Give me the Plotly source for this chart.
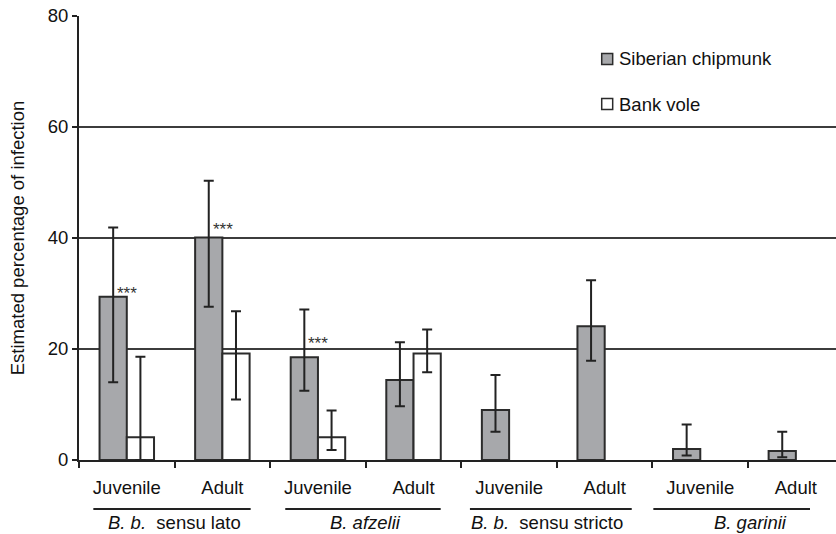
import plotly.graph_objects as go

# Categories: age class within each Borrelia genospecies group
age_labels = ["Juvenile", "Adult", "Juvenile", "Adult", "Juvenile", "Adult", "Juvenile", "Adult"]
groups = ["<i>B. b.</i>  sensu lato", "<i>B. afzelii</i>", "<i>B. b.</i>  sensu stricto", "<i>B. garinii</i>"]

# Estimated percentage of infection with 95% confidence limits
chip_val = [29.4, 40.1, 18.5, 14.4, 9.0, 24.1, 2.0, 1.6]
chip_low = [14.0, 27.6, 12.5, 9.7, 5.1, 17.9, 0.8, 0.5]
chip_high = [41.9, 50.3, 27.1, 21.2, 15.3, 32.4, 6.4, 5.1]

vole_val = [4.1, 19.2, 4.1, 19.2, None, None, None, None]
vole_low = [0.0, 10.9, 1.8, 15.8, None, None, None, None]
vole_high = [18.6, 26.8, 8.9, 23.5, None, None, None, None]

# Chipmunk bars marked as significantly different from bank voles,
# with the height at which each "***" marker sits
star_marks = ["***", "***", "***", "", "", "", "", ""]
star_y = [30.5, 42.0, 21.4, None, None, None, None, None]

FONT = "Liberation Sans, Arial, sans-serif"
GREY = "#a7a8ab"
EDGE = "#2b2b2b"
INK = "#222222"
TXT = "#111111"
FS = 18.5

xs = list(range(len(age_labels)))


def err(vals, low, high):
    plus = [None if v is None else h - v for v, h in zip(vals, high)]
    minus = [None if v is None else v - l for v, l in zip(vals, low)]
    return dict(type="data", symmetric=False, array=plus, arrayminus=minus,
                thickness=2, width=5, color=INK)


fig = go.Figure()
fig.add_trace(go.Bar(
    x=xs, y=chip_val, name="Siberian chipmunk",
    marker=dict(color=GREY, line=dict(color=EDGE, width=2)),
    error_y=err(chip_val, chip_low, chip_high), showlegend=False,
))
fig.add_trace(go.Bar(
    x=xs, y=vole_val, name="Bank vole",
    marker=dict(color="white", line=dict(color=EDGE, width=2)),
    error_y=err(vole_val, vole_low, vole_high), showlegend=False,
))

bar_w = (1 - 0.43) / 2

annotations = []
# significance stars beside the chipmunk error bars
for i, (mark, sy) in enumerate(zip(star_marks, star_y)):
    if mark:
        annotations.append(dict(
            x=i - bar_w / 2, y=sy, xref="x", yref="y", text=mark,
            showarrow=False, xanchor="left", yanchor="bottom",
            xshift=2, yshift=-14, font=dict(family=FONT, size=17, color="#333333"),
        ))

# genospecies group captions with underline
group_label_x = [0.5, 2.5, 4.4, 6.53]
underline_span = [(-0.35, 1.296), (1.658, 3.284), (3.59, 5.283), (5.509, 7.148)]
shapes = []
for g, txt in enumerate(groups):
    annotations.append(dict(
        x=group_label_x[g], y=-0.141, xref="x", yref="paper", text=txt,
        showarrow=False, xanchor="center", yanchor="middle",
        font=dict(family=FONT, size=FS, color=TXT),
    ))
    x0, x1 = underline_span[g]
    shapes.append(dict(type="line", xref="x", yref="paper", x0=x0, x1=x1,
                       y0=-0.1104, y1=-0.1104, line=dict(color=INK, width=2)))

# legend keys
legend_items = [("Siberian chipmunk", GREY, 0.9032), ("Bank vole", "white", 0.8018)]
for label, fill, yc in legend_items:
    shapes.append(dict(type="rect", xref="paper", yref="paper",
                       x0=0.6905, x1=0.7050, y0=yc - 0.0124, y1=yc + 0.0124,
                       fillcolor=fill, line=dict(color=EDGE, width=1.5)))
    annotations.append(dict(
        x=0.711, y=yc, xref="paper", yref="paper", text=label, showarrow=False,
        xanchor="left", yanchor="middle",
        font=dict(family=FONT, size=FS, color=TXT),
    ))

fig.update_layout(
    width=836, height=534,
    margin=dict(l=79, r=0, t=16, b=74),
    paper_bgcolor="white", plot_bgcolor="white",
    barmode="group", bargap=0.43, bargroupgap=0,
    font=dict(family=FONT, size=FS, color=TXT),
    annotations=annotations, shapes=shapes,
    showlegend=False,
)

fig.update_xaxes(
    range=[-0.5, 7.42],
    tickmode="array", tickvals=xs, ticktext=age_labels,
    ticks="", ticklabelstandoff=10,
    showline=True, linecolor=INK, linewidth=2,
    showgrid=False, zeroline=False,
    minor=dict(tick0=-0.5, dtick=1, ticks="outside", ticklen=6,
               tickwidth=2, tickcolor=INK, showgrid=False),
    tickfont=dict(family=FONT, size=FS, color=TXT),
)

fig.update_yaxes(
    range=[0, 80], tickvals=[0, 20, 40, 60, 80],
    ticks="outside", ticklen=5, tickwidth=2, tickcolor=INK,
    showline=True, linecolor=INK, linewidth=2,
    showgrid=True, gridcolor="#3c3c3c", gridwidth=2,
    zeroline=False,
    tickfont=dict(family=FONT, size=FS, color=TXT),
    title=dict(text="Estimated percentage of infection", standoff=18,
               font=dict(family=FONT, size=FS, color=TXT)),
)

fig.write_html("out.html")
